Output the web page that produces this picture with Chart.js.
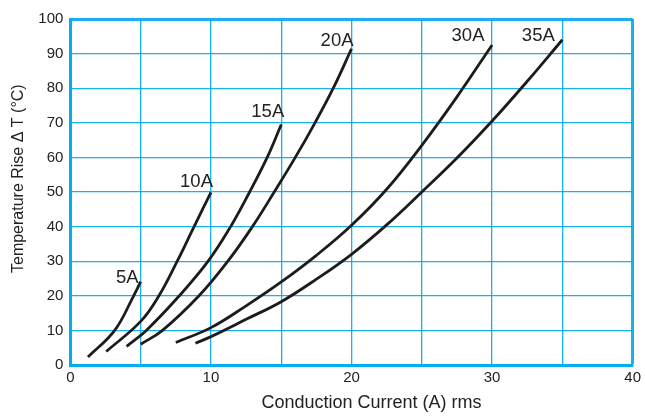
<!DOCTYPE html>
<html>
<head>
<meta charset="utf-8">
<script src="https://cdn.jsdelivr.net/npm/chart.js@4/dist/chart.umd.min.js"></script>
<style>
  html, body { margin: 0; padding: 0; background: #fff; }
  #wrap { width: 645px; height: 418px; }
</style>
</head>
<body>
<div id="wrap"><canvas id="chart" width="645" height="418"></canvas></div>
<script>
// Données : courant (A) / échauffement (°C)
const ratings = ["5A", "10A", "15A", "20A", "30A", "35A"];

const curve5A  = [[1.25, 2.3], [3.15, 10], [4.5, 20], [5, 24.1]];
const curve10A = [[2.55, 3.9], [5, 12.6], [6.3, 20], [7.6, 30], [8.8, 40], [10, 49.9]];
const curve15A = [[4, 5.4], [5.4, 10], [7.75, 20], [9.8, 30], [11.4, 40], [12.75, 50], [14, 60], [15, 69.5]];
const curve20A = [[5, 6], [6.55, 10], [9.15, 20], [11.2, 30], [12.95, 40], [14.5, 50], [16, 60], [17.4, 70], [18.7, 80], [20, 91.4]];
const curve30A = [[7.5, 6.5], [10, 10.8], [12.5, 17.1], [15, 24], [17.5, 31.7], [20, 40.4], [22.5, 50.8], [25, 63.5], [27.5, 77.5], [30, 92.5]];
const curve35A = [[8.9, 6.3], [10, 8.2], [12.5, 13.2], [15, 18.3], [17.5, 24.8], [20, 32], [22.5, 40.5], [25, 50], [27.5, 59.8], [30, 70.5], [32.5, 82], [35, 94]];

const curves = [curve5A, curve10A, curve15A, curve20A, curve30A, curve35A];

// Axes
const xMin = 0, xMax = 40, xStep = 5, xLabelStep = 10;
const yMin = 0, yMax = 100, yStep = 10;
const xTitle = "Conduction Current (A) rms";
const yTitle = "Temperature Rise \u0394 T (\u00B0C)";

const gridBlue = "rgba(0, 168, 232, 0.9)";
const frameBlue = "#00aeef";
const sans = "'Liberation Sans', Arial, sans-serif";

// Le titre n'est pas centré sur l'axe dans l'original : on le décale avec des espaces
const pad = n => "\u00a0".repeat(n);

// Décalage des étiquettes par rapport à la fin de chaque courbe (px)
const labelOffsets = [[-2, 1], [2, -5.6], [3, -8], [2, -3], [-7.6, -4], [-7.6, 1]];

const curveLabels = {
    id: "curveLabels",
    afterDatasetsDraw(chart) {
        const { ctx, scales } = chart;
        ctx.save();
        ctx.font = "18.5px " + sans;
        ctx.fillStyle = "#222";
        ctx.textAlign = "right";
        ctx.textBaseline = "alphabetic";
        curves.forEach((c, i) => {
            const last = c[c.length - 1];
            const px = scales.x.getPixelForValue(last[0]);
            const py = scales.y.getPixelForValue(last[1]);
            ctx.fillText(ratings[i], px + labelOffsets[i][0], py + labelOffsets[i][1]);
        });
        ctx.restore();
    }
};

new Chart(document.getElementById("chart"), {
    type: "line",
    data: {
        datasets: curves.map((c, i) => ({
            label: ratings[i],
            data: c.map(p => ({ x: p[0], y: p[1] })),
            borderColor: "#1c1c1c",
            borderWidth: 2.8,
            pointRadius: 0,
            tension: 0.4,
            fill: false
        }))
    },
    options: {
        responsive: false,
        animation: false,
        layout: { padding: { left: 9, right: 10, top: 19, bottom: 4 } },
        plugins: {
            legend: { display: false },
            tooltip: { enabled: false }
        },
        scales: {
            x: {
                type: "linear",
                min: xMin, max: xMax,
                afterFit: s => { s.height = 49; },
                ticks: {
                    stepSize: xStep,
                    autoSkip: false,
                    maxRotation: 0,
                    padding: 4,
                    color: "#222",
                    font: { family: sans, size: 15 },
                    callback: v => (v % xLabelStep === 0 ? v : "")
                },
                grid: {
                    drawTicks: false,
                    color: gridBlue,
                    lineWidth: c => (c.tick && c.tick.value === xMax ? 3 : 1.3)
                },
                border: { color: frameBlue, width: 3 },
                title: {
                    display: true,
                    text: pad(8) + xTitle,
                    color: "#222",
                    padding: 0,
                    font: { family: sans, size: 18 }
                }
            },
            y: {
                type: "linear",
                min: yMin, max: yMax,
                afterFit: s => { s.width = 61.4; },
                ticks: {
                    stepSize: yStep,
                    padding: 7,
                    color: "#222",
                    font: { family: sans, size: 15 }
                },
                grid: {
                    drawTicks: false,
                    color: gridBlue,
                    lineWidth: c => (c.tick && c.tick.value === yMax ? 3 : 1.3)
                },
                border: { color: frameBlue, width: 3 },
                title: {
                    display: true,
                    text: pad(6) + yTitle,
                    color: "#222",
                    padding: 0,
                    font: { family: sans, size: 16 }
                }
            }
        }
    },
    plugins: [curveLabels]
});
</script>
</body>
</html>
